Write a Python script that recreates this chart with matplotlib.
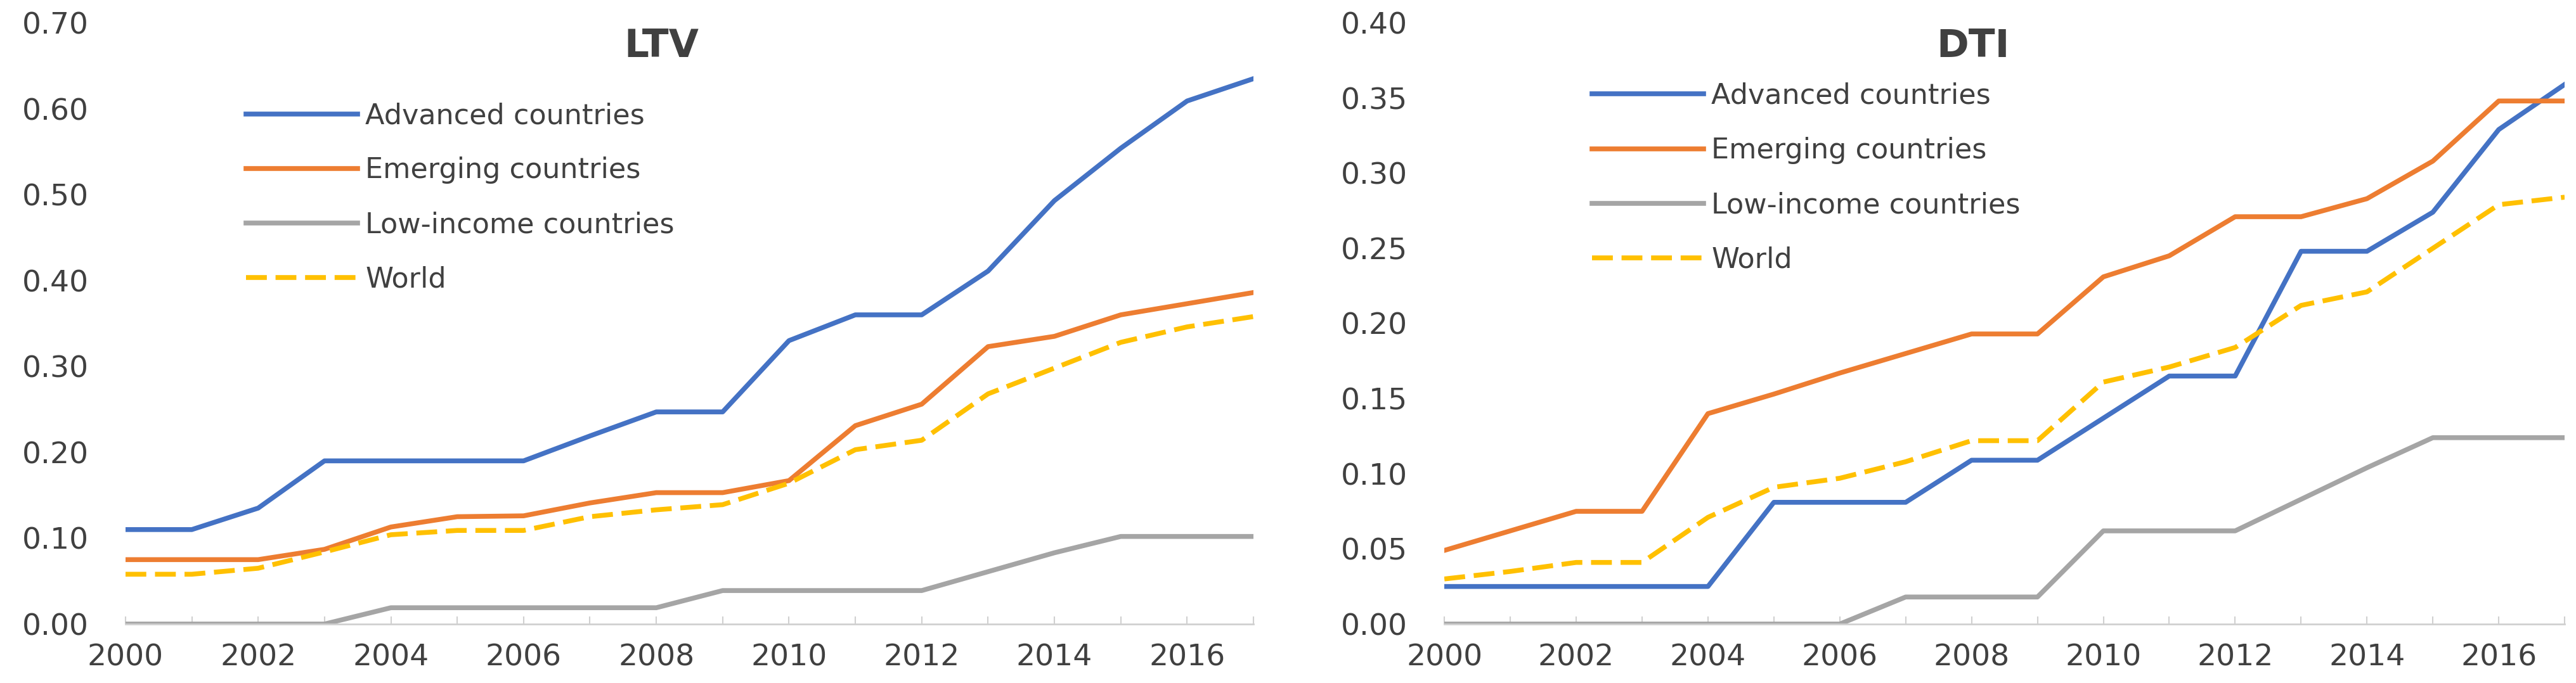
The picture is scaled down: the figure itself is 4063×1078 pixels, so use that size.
import matplotlib.pyplot as plt
from matplotlib.ticker import MultipleLocator, FormatStrFormatter

plt.rcParams['font.family'] = ['DejaVu Sans']

years = list(range(2000, 2018))
series_names = ['Advanced countries', 'Emerging countries', 'Low-income countries', 'World']

adv_ltv = [0.11, 0.11, 0.135, 0.19, 0.19, 0.19, 0.19, 0.219, 0.247, 0.247,
           0.33, 0.36, 0.36, 0.411, 0.493, 0.554, 0.609, 0.635]
emg_ltv = [0.075, 0.075, 0.075, 0.087, 0.113, 0.125, 0.126, 0.141, 0.153, 0.153,
           0.167, 0.231, 0.256, 0.323, 0.335, 0.36, 0.373, 0.386]
low_ltv = [0, 0, 0, 0, 0.019, 0.019, 0.019, 0.019, 0.019, 0.039,
           0.039, 0.039, 0.039, 0.061, 0.083, 0.102, 0.102, 0.102]
wld_ltv = [0.058, 0.058, 0.065, 0.084, 0.104, 0.109, 0.109, 0.125, 0.133, 0.139,
           0.164, 0.203, 0.214, 0.268, 0.298, 0.328, 0.346, 0.358]

adv_dti = [0.025, 0.025, 0.025, 0.025, 0.025, 0.081, 0.081, 0.081, 0.109, 0.109,
           0.137, 0.165, 0.165, 0.248, 0.248, 0.274, 0.329, 0.359]
emg_dti = [0.049, 0.062, 0.075, 0.075, 0.14, 0.153, 0.167, 0.18, 0.193, 0.193,
           0.231, 0.245, 0.271, 0.271, 0.283, 0.308, 0.348, 0.348]
low_dti = [0, 0, 0, 0, 0, 0, 0, 0.018, 0.018, 0.018,
           0.062, 0.062, 0.062, 0.083, 0.104, 0.124, 0.124, 0.124]
wld_dti = [0.03, 0.035, 0.041, 0.041, 0.071, 0.091, 0.097, 0.108, 0.122, 0.122,
           0.161, 0.171, 0.184, 0.212, 0.221, 0.25, 0.279, 0.284]

colors = ['#4472C4', '#ED7D31', '#A5A5A5', '#FFC000']
txt = '#404040'


def panel(ax, data, title, ymax, ystep, leg_xy, title_x):
    for i, vals in enumerate(data):
        if i == 3:
            ax.plot(years, vals, color=colors[i], lw=5.5, dashes=(4.3, 1.8),
                    label=series_names[i])
        else:
            ax.plot(years, vals, color=colors[i], lw=5.5, label=series_names[i])
    ax.set_xlim(2000, 2017)
    ax.set_ylim(0, ymax)
    for s in ['top', 'right', 'left']:
        ax.spines[s].set_visible(False)
    ax.spines['bottom'].set_color('#D0D0D0')
    ax.spines['bottom'].set_linewidth(2)
    ax.xaxis.set_major_locator(MultipleLocator(2))
    ax.xaxis.set_minor_locator(MultipleLocator(1))
    ax.yaxis.set_major_locator(MultipleLocator(ystep))
    ax.yaxis.set_major_formatter(FormatStrFormatter('%.2f'))
    ax.tick_params(axis='x', which='both', direction='in', length=9, width=1.5,
                   color='#D0D0D0', labelsize=34, labelcolor=txt, pad=22)
    ax.tick_params(axis='y', length=0, labelsize=34, labelcolor=txt, pad=42)
    ax.text(title_x, 0.96, title, transform=ax.transAxes, ha='center', va='center',
            fontsize=44, fontweight='bold', color=txt)
    leg = ax.legend(loc='upper left', bbox_to_anchor=leg_xy, frameon=False,
                    fontsize=32, handlelength=3.96, handletextpad=0.27,
                    labelspacing=0.97, borderpad=0, borderaxespad=0)
    for t in leg.get_texts():
        t.set_color(txt)


fig = plt.figure(figsize=(40.63, 10.78), dpi=100)
ax1 = fig.add_axes([0.0487, 0.0863, 0.4379, 0.8803])
ax2 = fig.add_axes([0.5607, 0.0863, 0.4349, 0.8803])

panel(ax1, [adv_ltv, emg_ltv, low_ltv, wld_ltv], 'LTV', 0.70, 0.10, (0.107, 0.868), 0.475)
panel(ax2, [adv_dti, emg_dti, low_dti, wld_dti], 'DTI', 0.40, 0.05, (0.132, 0.901), 0.472)

fig.savefig('out.png', dpi=100)
